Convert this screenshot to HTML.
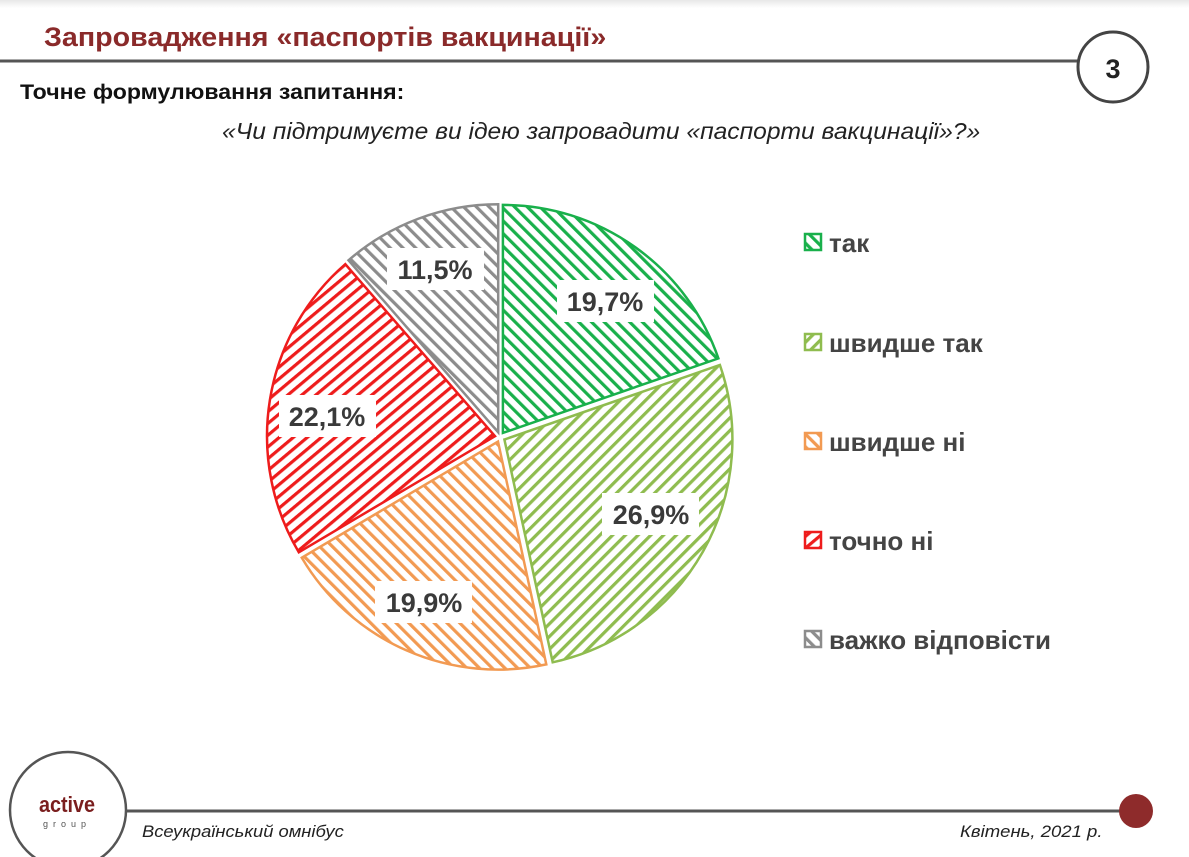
<!DOCTYPE html>
<html><head><meta charset="utf-8"><style>
html,body{margin:0;padding:0;background:#fff;}
body{width:1189px;height:857px;position:relative;overflow:hidden;font-family:"Liberation Sans","DejaVu Sans",sans-serif;}
.t{position:absolute;white-space:nowrap;transform-origin:0 0;}
</style></head><body>
<div style="position:absolute;left:0;top:0;width:1189px;height:8px;background:linear-gradient(#e8e8e8,#fff);"></div>
<svg width="1189" height="857" style="position:absolute;left:0;top:0">
<defs>
<pattern id="pg" width="9" height="9" patternUnits="userSpaceOnUse" patternTransform="rotate(-45)"><rect width="9" height="9" fill="#fff"/><rect width="3.2" height="9" fill="#19b04b"/></pattern>
<pattern id="plg" width="9" height="9" patternUnits="userSpaceOnUse" patternTransform="rotate(45)"><rect width="9" height="9" fill="#fff"/><rect width="3.2" height="9" fill="#8fbc4f"/></pattern>
<pattern id="po" width="9" height="9" patternUnits="userSpaceOnUse" patternTransform="rotate(-45)"><rect width="9" height="9" fill="#fff"/><rect width="3.2" height="9" fill="#f29a52"/></pattern>
<pattern id="pr" width="9" height="9" patternUnits="userSpaceOnUse" patternTransform="rotate(50)"><rect width="9" height="9" fill="#fff"/><rect width="3.2" height="9" fill="#ee1c1c"/></pattern>
<pattern id="pgr" width="9" height="9" patternUnits="userSpaceOnUse" patternTransform="rotate(-45)"><rect width="9" height="9" fill="#fff"/><rect width="3.2" height="9" fill="#8c8c8c"/></pattern>
</defs>
<line x1="0" y1="61" x2="1080" y2="61" stroke="#555" stroke-width="3"/>
<circle cx="1113" cy="67" r="35" fill="#fff" stroke="#444" stroke-width="3"/>
<text x="1113" y="78" text-anchor="middle" font-family="Liberation Sans" font-weight="bold" font-size="27" fill="#222">3</text>
<path d="M502.9,432.9 L502.9,204.9 A228,228 0 0 1 718.4,358.4 Z" fill="url(#pg)" stroke="#19b04b" stroke-width="2.5"/>
<path d="M504.4,439.5 L719.9,365 A228,228 0 0 1 552.7,662.3 Z" fill="url(#plg)" stroke="#8fbc4f" stroke-width="2.5"/>
<path d="M498,441.6 L546.3,664.4 A228,228 0 0 1 301.8,557.7 Z" fill="url(#po)" stroke="#f29a52" stroke-width="2.5"/>
<path d="M495,436.2 L298.8,552.3 A228,228 0 0 1 345.3,264.2 Z" fill="url(#pr)" stroke="#ee1c1c" stroke-width="2.5"/>
<path d="M498.2,432.3 L348.5,260.3 A228,228 0 0 1 498.2,204.3 Z" fill="url(#pgr)" stroke="#8c8c8c" stroke-width="2.5"/>
<g font-family="Liberation Sans" font-weight="bold" font-size="27" fill="#3a3a3a" text-anchor="middle">
<rect x="557" y="280" width="97" height="42" fill="#fff"/><text x="605" y="311">19,7%</text>
<rect x="602" y="493" width="97" height="42" fill="#fff"/><text x="651" y="524">26,9%</text>
<rect x="375" y="581" width="97" height="42" fill="#fff"/><text x="424" y="612">19,9%</text>
<rect x="279" y="395" width="97" height="42" fill="#fff"/><text x="327" y="426">22,1%</text>
<rect x="387" y="248" width="97" height="42" fill="#fff"/><text x="435" y="279">11,5%</text>
</g>
<g stroke-width="2.5">
<rect x="805" y="234" width="16" height="16" fill="url(#pg)" stroke="#19b04b"/>
<rect x="805" y="334" width="16" height="16" fill="url(#plg)" stroke="#8fbc4f"/>
<rect x="805" y="433" width="16" height="16" fill="url(#po)" stroke="#f29a52"/>
<rect x="805" y="532" width="16" height="16" fill="url(#pr)" stroke="#ee1c1c"/>
<rect x="805" y="631" width="16" height="16" fill="url(#pgr)" stroke="#8c8c8c"/>
</g>
<g font-family="Liberation Sans" font-weight="bold" font-size="26" fill="#444">
<text x="829" y="252">так</text>
<text x="829" y="352">швидше так</text>
<text x="829" y="451">швидше ні</text>
<text x="829" y="550">точно ні</text>
<text x="829" y="649">важко відповісти</text>
</g>
<line x1="125" y1="811" x2="1125" y2="811" stroke="#555" stroke-width="3"/>
<circle cx="1136" cy="811" r="17" fill="#8e2b2b"/>
<circle cx="68" cy="810" r="58" fill="#fff" stroke="#555" stroke-width="2.5"/>
<text x="67" y="812" text-anchor="middle" font-family="Liberation Sans" font-weight="bold" font-size="22" fill="#7a1e1e" transform="translate(67 0) scale(0.9 1) translate(-67 0)">active</text>
<text x="67" y="827" text-anchor="middle" font-family="Liberation Sans" font-size="9" letter-spacing="5" fill="#555">group</text>
</svg>
<div class="t" style="left:44px;top:22px;font-size:27px;font-weight:bold;color:#8a2a2a;transform:scaleX(1.06);">Запровадження «паспортів вакцинації»</div>
<div class="t" style="left:20px;top:81px;font-size:21px;font-weight:bold;color:#111;transform:scaleX(1.1);">Точне формулювання запитання:</div>
<div class="t" style="left:222px;top:118px;font-size:23px;font-style:italic;color:#222;transform:scaleX(1.07);">«Чи підтримуєте ви ідею запровадити «паспорти вакцинації»?»</div>
<div class="t" style="left:142px;top:822px;font-size:17px;font-style:italic;color:#222;transform:scaleX(1.08);">Всеукраїнський омнібус</div>
<div class="t" style="left:960px;top:822px;font-size:17px;font-style:italic;color:#222;transform:scaleX(1.09);">Квітень, 2021 р.</div>
</body></html>
